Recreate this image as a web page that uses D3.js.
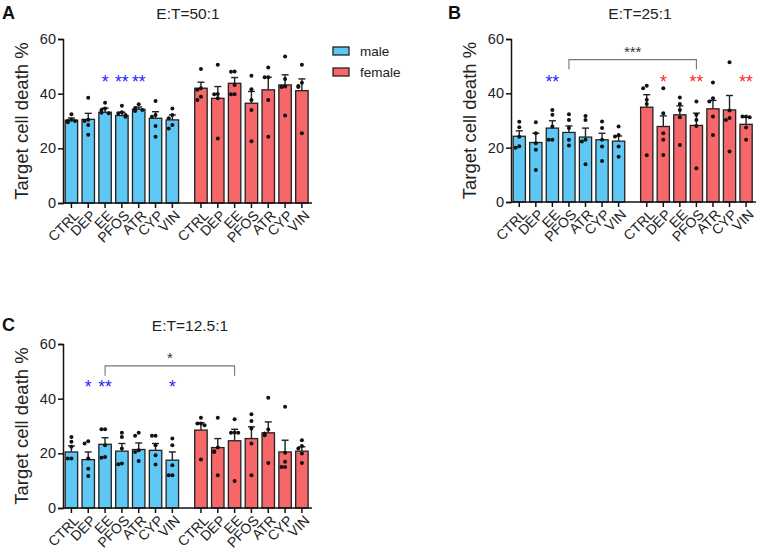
<!DOCTYPE html>
<html lang="en">
<head>
<meta charset="utf-8">
<script src="https://d3js.org/d3.v7.min.js"></script>
<style type="text/css">
	body{ margin:0; background:#fff; }
	svg{ font-family:"Liberation Sans", Arial, sans-serif; }
</style>
</head>
<body>
<svg id="chart" width="758" height="550"></svg>
<script type="text/javascript">
	// group names (same for both sexes)
	var groups = ["CTRL","DEP","EE","PFOS","ATR","CYP","VIN"];
	var yTicks = [0,20,40,60];

	// E:T=50:1
	var maleA = [30.3,30.6,33.2,32.0,34.3,31.0,30.4];
	var maleA_sem = [0.8,2.2,1.5,1.2,0.8,2.4,1.8];
	var maleA_pts = [[32.5,30.5,30,29.5,30],[38.5,30.5,30,28.5,25],[36.7,34.6,32.8,34,33],[35.6,32.8,31.6,32.2,33.2],[36.1,34,33.7,34.2,34.8],[37.3,31.6,28.2,24.2,32.2],[34.6,32.2,31,28.5,27.3]];
	var femaleA = [42.0,38.3,43.8,36.5,41.4,43.2,41.1];
	var femaleA_sem = [2.2,4.3,2.1,4.3,4.6,3.7,4.3];
	var femaleA_pts = [[49,41.4,37.7,38.9,42],[50.6,39.9,38.3,23.6,39.8],[48.1,48,39.8,39.8,43.2],[46.6,37.7,34,22.6,41.6],[49.6,46,46,37.7,24.2],[53.6,45.4,42.4,32,42.6],[50.6,42.8,42.4,25.5,44]];

	// E:T=25:1
	var maleB = [24.2,21.9,27.2,25.6,23.9,22.9,22.4];
	var maleB_sem = [2.0,3.4,2.7,2.4,3.3,2.4,1.9];
	var maleB_pts = [[29.5,27.5,24,20.5,20],[29.4,25.3,21.6,19.2,11.8],[33.9,32.1,27.8,22.9,22.9],[32.3,30.2,27.2,22.9,20.8],[31.7,30.2,22.9,22.3,13.9],[29.6,27.2,22.9,20.4,15.1],[27.8,24.7,24.1,20.4,16.7]];
	var femaleB = [34.9,27.8,32.1,28.2,34.3,33.9,28.6];
	var femaleB_sem = [4.6,3.9,3.3,4.5,3.1,5.3,2.6];
	var femaleB_pts = [[42.8,41.9,37.6,36.1,17.2],[41.9,32.7,25.3,22.9,17.3],[38.5,36.1,33.9,31.2,21],[37,32.1,30.2,28,12.4],[44,38.2,37,31.5,24.7],[51.4,33.7,30.9,30.2,18.6],[31.5,31.5,31.2,27.4,22.9]];

	// E:T=12.5:1
	var maleC = [20.5,17.7,23.3,20.8,21.4,21.1,17.5];
	var maleC_sem = [2.2,2.8,2.4,2.8,2.4,2.5,3.0];
	var maleC_pts = [[26,24.2,22.4,18.1,18.1],[24.4,23.6,18.1,14.4,11.7],[28.8,28.8,23,18.7,18.4],[27.5,26,21.8,16.3,16],[27.5,26.4,21.1,20.5,17.2],[26.4,26.4,23,19.3,15.9],[25.4,23,15.6,12,12]];
	var femaleC = [28.5,22.1,24.6,25.4,27.5,20.5,20.8];
	var femaleC_sem = [2.7,3.3,4.2,4.3,4.0,4.3,1.6];
	var femaleC_pts = [[33,30.9,30.9,30.3,17.7],[33,22.1,20.8,20.5,12],[32.5,27.5,27.5,27.6,9.9],[34.3,31.8,29.1,23.6,12],[40.3,28.7,27.3,26.6,16.5],[37,20.2,16.9,15,15],[24.8,22.7,21.8,19.9,16.5]];

	// significance marks: [sex, group index, label]
	var sigA = [["m",2,"*"],["m",3,"**"],["m",4,"**"]];
	var sigB = [["m",2,"**"],["f",1,"*"],["f",3,"**"],["f",6,"**"]];
	var sigC = [["m",1,"*"],["m",2,"**"],["m",6,"*"]];
	// bracket: [male index, female index, label]
	var bracketB = [3,3,"***"];
	var bracketC = [2,2,"*"];

	var maleColor = "#5fc7f4";
	var femaleColor = "#f66769";
	var sigColor = {m:"#1f1fff", f:"#ff1f1f"};

	var svg = d3.select("#chart");

	function drawPanel(cfg) {
		var g = svg.append("g");
		var x = d3.scaleLinear().domain([-0.5,14.3]).range([cfg.x0, cfg.x1]);
		var y = d3.scaleLinear().domain([0,60]).range([cfg.y0, cfg.y1]);
		var step = x(1) - x(0);
		var bw = step * 0.74;

		// combine both sexes into one list
		var data = [];
		groups.forEach(function(name,i){
			data.push({name:name, sex:"m", pos:i, v:cfg.male[i], sem:cfg.maleSem[i], pts:cfg.malePts[i]});
		});
		groups.forEach(function(name,i){
			data.push({name:name, sex:"f", pos:i+7.7, v:cfg.female[i], sem:cfg.femaleSem[i], pts:cfg.femalePts[i]});
		});

		// error bars (upper only, drawn before bars)
		var eb = g.selectAll(".eb").data(data).enter().append("g");
		eb.append("line")
			.attr("x1", function(d){return x(d.pos);})
			.attr("x2", function(d){return x(d.pos);})
			.attr("y1", function(d){return y(d.v);})
			.attr("y2", function(d){return y(d.v+d.sem);})
			.attr("stroke","#222").attr("stroke-width",1.4);
		eb.append("line")
			.attr("x1", function(d){return x(d.pos)-3.5;})
			.attr("x2", function(d){return x(d.pos)+3.5;})
			.attr("y1", function(d){return y(d.v+d.sem);})
			.attr("y2", function(d){return y(d.v+d.sem);})
			.attr("stroke","#222").attr("stroke-width",1.4);

		g.selectAll("rect").data(data).enter().append("rect")
			.attr("x", function(d){return x(d.pos)-bw/2;})
			.attr("y", function(d){return y(d.v);})
			.attr("width", bw)
			.attr("height", function(d){return y(0)-y(d.v);})
			.attr("fill", function(d){return d.sex=="m" ? maleColor : femaleColor;})
			.attr("stroke","#222").attr("stroke-width",1.3);

		// dots: spread points sideways so they don't sit on each other
		var offs = [0,-3.6,3.6,-3.6,3.6];
		data.forEach(function(d){
			var sorted = d.pts.slice().sort(function(a,b){return b-a;});
			var placed = [];
			sorted.forEach(function(p){
				var k = 0;
				placed.forEach(function(q){ if (Math.abs(y(q.v)-y(p))<4) k++; });
				var dx = offs[k % offs.length];
				placed.push({v:p});
				g.append("circle")
					.attr("cx", x(d.pos)+dx)
					.attr("cy", y(p))
					.attr("r", 2)
					.attr("fill","#111");
			});
		});

		// axes
		var yAxis = d3.axisLeft(y).tickValues(yTicks).tickSize(5).tickPadding(2);
		var ya = g.append("g").attr("transform","translate("+cfg.x0+",0)").call(yAxis);
		ya.select(".domain").attr("stroke","#111").attr("stroke-width",1.5);
		ya.selectAll(".tick line").attr("stroke","#111").attr("stroke-width",1.5);
		ya.selectAll("text").attr("font-size",14.5).attr("fill","#222");

		var xa = g.append("g").attr("transform","translate(0,"+cfg.y0+")");
		xa.append("line").attr("x1",cfg.x0).attr("x2",cfg.x1)
			.attr("stroke","#111").attr("stroke-width",1.5);
		var tk = xa.selectAll(".xt").data(data).enter().append("g")
			.attr("transform", function(d){return "translate("+x(d.pos)+",0)";});
		tk.append("line").attr("y1",0).attr("y2",5).attr("stroke","#111").attr("stroke-width",1.5);
		tk.append("text")
			.attr("transform","translate(5,10) rotate(-45)")
			.attr("text-anchor","end")
			.attr("dy","0.35em")
			.attr("font-size",14)
			.attr("fill","#222")
			.text(function(d){return d.name;});

		// y label
		g.append("text")
			.attr("transform","translate("+(cfg.x0-35)+","+((cfg.y0+cfg.y1)/2)+") rotate(-90)")
			.attr("text-anchor","middle")
			.attr("font-size",18.5)
			.attr("fill","#222")
			.text("Target cell death %");

		// title + panel letter
		g.append("text").attr("x",cfg.titleX).attr("y",cfg.titleY)
			.attr("text-anchor","middle").attr("font-size",15.5).attr("fill","#222")
			.text(cfg.title);
		g.append("text").attr("x",cfg.letterX).attr("y",cfg.titleY)
			.attr("font-size",18).attr("font-weight","bold").attr("fill","#111")
			.text(cfg.letter);

		// significance stars
		cfg.sig.forEach(function(s){
			var p = s[0]=="m" ? s[1] : s[1]+7.7;
			g.append("text").attr("x",x(p)).attr("y",y(45)+8)
				.attr("text-anchor","middle").attr("font-size",17.5)
				.attr("fill",sigColor[s[0]]).text(s[2]);
		});

		// bracket between male and female
		if (cfg.bracket) {
			var bx1 = x(cfg.bracket[0]), bx2 = x(cfg.bracket[1]+7.7);
			var top = y(cfg.bracketTop), low = y(cfg.bracketTop-3.6);
			g.append("path")
				.attr("d","M"+bx1+","+low+"V"+top+"H"+bx2+"V"+low)
				.attr("fill","none").attr("stroke","#777").attr("stroke-width",1.1);
			g.append("text").attr("x",(bx1+bx2)/2).attr("y",top-3)
				.attr("text-anchor","middle").attr("font-size",15).attr("fill","#333")
				.text(cfg.bracket[2]);
		}
	}

	drawPanel({x0:63, x1:312, y0:203, y1:39, title:"E:T=50:1", titleX:188, titleY:19, letter:"A", letterX:2,
		male:maleA, maleSem:maleA_sem, malePts:maleA_pts, female:femaleA, femaleSem:femaleA_sem, femalePts:femaleA_pts,
		sig:sigA});
	drawPanel({x0:511, x1:756, y0:202, y1:39, title:"E:T=25:1", titleX:640, titleY:19, letter:"B", letterX:448,
		male:maleB, maleSem:maleB_sem, malePts:maleB_pts, female:femaleB, femaleSem:femaleB_sem, femalePts:femaleB_pts,
		sig:sigB, bracket:bracketB, bracketTop:52.4});
	drawPanel({x0:63, x1:312, y0:508, y1:344, title:"E:T=12.5:1", titleX:190, titleY:331, letter:"C", letterX:2,
		male:maleC, maleSem:maleC_sem, malePts:maleC_pts, female:femaleC, femaleSem:femaleC_sem, femalePts:femaleC_pts,
		sig:sigC, bracket:bracketC, bracketTop:52});

	// legend
	var leg = svg.append("g").attr("transform","translate(333,51)");
	[["male",maleColor],["female",femaleColor]].forEach(function(l,i){
		leg.append("rect").attr("x",0).attr("y",i*21-4).attr("width",16).attr("height",8)
			.attr("fill",l[1]).attr("stroke","#222").attr("stroke-width",1.3);
		leg.append("text").attr("x",27).attr("y",i*21).attr("dy","0.35em")
			.attr("font-size",13.5).attr("fill","#222").text(l[0]);
	});
</script>
</body>
</html>
